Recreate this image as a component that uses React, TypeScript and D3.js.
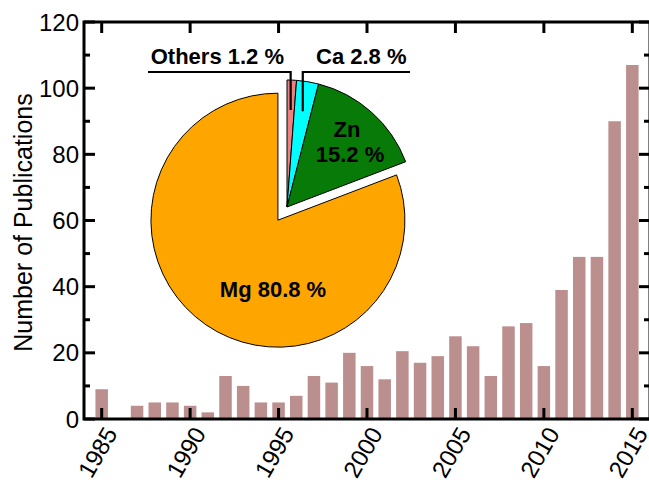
import React from "react";
import * as d3 from "d3";

const years = [1985,1986,1987,1988,1989,1990,1991,1992,1993,1994,1995,1996,1997,1998,1999,2000,2001,2002,2003,2004,2005,2006,2007,2008,2009,2010,2011,2012,2013,2014,2015];
const publications = [9,0,4,5,5,4,2,13,10,5,5,7,13,11,20,16,12,20.5,17,19,25,22,13,28,29,16,39,49,49,90,107];
const xTickYears = [1985,1990,1995,2000,2005,2010,2015];
const yTicks = [0,20,40,60,80,100,120];
const yMinorTicks = [10,30,50,70,90,110];
const pieNames = ["Others","Ca","Zn","Mg"];
const pieShares = [1.2,2.8,15.2,80.8];
const pieColors = ["#F08080","#00FFFF","#077A07","#FFA500"];

const W = 649, H = 480;
const L = 84, R = 650, T = 22, B = 419;
const FONT = "'Liberation Sans', Arial, Helvetica, sans-serif";

export default function App() {
  const x = d3.scaleLinear().domain([1984, 2016]).range([L, R]);
  const y = d3.scaleLinear().domain([0, 120]).range([B, T]);
  const barW = 12.5;

  const cx = 287, cy = 207, rad = 127;
  const pie = d3.pie<number>().sort(null).startAngle(0).endAngle(2 * Math.PI);
  const arcs = pie(pieShares);
  const arc = d3.arc<d3.PieArcDatum<number>>().innerRadius(0).outerRadius(rad);
  const leader = d3.arc<d3.PieArcDatum<number>>().innerRadius(97).outerRadius(97);
  const explode = 16;

  const othersPt = leader.centroid(arcs[0]);
  const caPt = leader.centroid(arcs[1]);
  const lineY = 72;

  return (
    <svg width={W} height={H} style={{ position: "absolute", left: 0, top: 0, background: "#fff" }} fontFamily={FONT}>
      {years.map((yr, i) => publications[i] > 0 ? (
        <rect key={yr} x={x(yr) - barW / 2} y={y(publications[i])} width={barW} height={B - y(publications[i])} fill="#BC8F8F" />
      ) : null)}

      <g transform={`translate(${cx},${cy})`}>
        {arcs.map((a, i) => {
          let dx = 0, dy = 0;
          if (pieNames[i] === "Mg") {
            const mid = (a.startAngle + a.endAngle) / 2;
            dx = explode * Math.sin(mid);
            dy = -explode * Math.cos(mid);
          }
          return <path key={i} d={arc(a) || ""} transform={`translate(${dx},${dy})`} fill={pieColors[i]} stroke="#000" strokeWidth={1} />;
        })}
        <polyline points={`${148 - cx},${lineY - cy} ${othersPt[0]},${lineY - cy} ${othersPt[0]},${othersPt[1]}`} fill="none" stroke="#000" strokeWidth={2.2} />
        <polyline points={`${410 - cx},${lineY - cy} ${caPt[0]},${lineY - cy} ${caPt[0]},${caPt[1]}`} fill="none" stroke="#000" strokeWidth={2.2} />
      </g>
      <g fontWeight="bold" fontSize={22} fill="#000">
        <text x={284} y={64} textAnchor="end">{`${pieNames[0]} ${pieShares[0]} %`}</text>
        <text x={316} y={64} textAnchor="start">{`${pieNames[1]} ${pieShares[1]} %`}</text>
        <text x={347} y={137} textAnchor="middle">{pieNames[2]}</text>
        <text x={350} y={162} textAnchor="middle">{`${pieShares[2]} %`}</text>
        <text x={273} y={297} textAnchor="middle">{`${pieNames[3]} ${pieShares[3]} %`}</text>
      </g>

      <rect x={L} y={T} width={R - L} height={B - T} fill="none" stroke="#000" strokeWidth={3} />
      {yTicks.map(v => (
        <g key={"y" + v}>
          <line x1={L} x2={L + 11} y1={y(v)} y2={y(v)} stroke="#000" strokeWidth={3} />
          <line x1={R} x2={R - 11} y1={y(v)} y2={y(v)} stroke="#000" strokeWidth={3} />
          <text x={79} y={y(v)} dy="0.36em" textAnchor="end" fontSize={24}>{v}</text>
        </g>
      ))}
      {yMinorTicks.map(v => (
        <g key={"ym" + v}>
          <line x1={L} x2={L + 6} y1={y(v)} y2={y(v)} stroke="#000" strokeWidth={3} />
          <line x1={R} x2={R - 6} y1={y(v)} y2={y(v)} stroke="#000" strokeWidth={3} />
        </g>
      ))}
      {xTickYears.map(v => (
        <g key={"x" + v}>
          <line x1={x(v)} x2={x(v)} y1={B} y2={B - 11} stroke="#000" strokeWidth={3} />
          <line x1={x(v)} x2={x(v)} y1={T} y2={T + 11} stroke="#000" strokeWidth={3} />
          <text transform={`translate(${x(v) + 9},${B + 10}) rotate(-60)`} dy="0.36em" textAnchor="end" fontSize={24}>{v}</text>
        </g>
      ))}
      <text transform={`translate(23,${(T + B) / 2 + 2}) rotate(-90)`} dy="0.36em" textAnchor="middle" fontSize={25}>Number of Publications</text>
    </svg>
  );
}
